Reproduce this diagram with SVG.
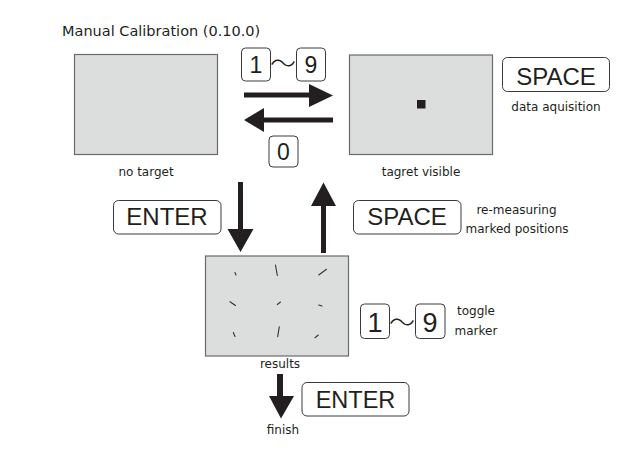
<svg xmlns="http://www.w3.org/2000/svg" width="639" height="454" viewBox="0 0 639 454">
<style>
.scr{fill:#dcdddd;stroke:#6b6b6b;stroke-width:1.2}
.key{fill:#fff;stroke:#3a3a3a;stroke-width:1}
.kt{font-family:"Liberation Sans",Arial,sans-serif;fill:#231f20;text-anchor:middle}
.lbl{font-family:"DejaVu Sans",Verdana,sans-serif;font-size:12px;fill:#231f20;text-anchor:middle}
.til{font-family:"Noto Sans CJK JP",sans-serif;font-size:26px;font-weight:200;fill:#231f20;text-anchor:middle}
.arr{fill:#231f20}
.mk{stroke:#333;stroke-width:1.1;stroke-linecap:round}
</style>
<rect width="639" height="454" fill="#fff"/>
<text x="62" y="36" font-family="DejaVu Sans,Verdana,sans-serif" font-size="14.5" fill="#231f20">Manual Calibration (0.10.0)</text>

<g id="no-target">
<rect class="scr" x="74.5" y="54.5" width="143" height="100"/>
<text class="lbl" x="146" y="176">no target</text>
</g>

<g id="target-visible">
<rect class="scr" x="349.5" y="55" width="143" height="99.5"/>
<rect x="417" y="100" width="8.5" height="8.5" fill="#231f20"/>
<text class="lbl" x="421" y="176">tagret visible</text>
</g>

<g id="results">
<rect class="scr" x="205.5" y="256" width="143" height="100"/>
<line class="mk" x1="235" y1="272.5" x2="236" y2="275"/>
<line class="mk" x1="275.5" y1="265" x2="277.3" y2="275.5"/>
<line class="mk" x1="318.7" y1="275" x2="326.5" y2="269.3"/>
<line class="mk" x1="230" y1="301.7" x2="235.5" y2="305.5"/>
<line class="mk" x1="277.3" y1="304.5" x2="280.5" y2="302"/>
<line class="mk" x1="318.7" y1="305" x2="322" y2="306"/>
<line class="mk" x1="233.3" y1="332.5" x2="235" y2="336.5"/>
<line class="mk" x1="277.7" y1="336.7" x2="279.3" y2="326.7"/>
<line class="mk" x1="315" y1="337.7" x2="318.3" y2="335"/>
<text class="lbl" x="280" y="368">results</text>
</g>

<g id="key-1-9-top">
<rect class="key" x="241.5" y="48" width="29" height="33" rx="4"/>
<text class="kt" x="256" y="73" font-size="23">1</text>
<text class="til" x="283" y="73">〜</text>
<rect class="key" x="296.5" y="48" width="29" height="33" rx="4"/>
<text class="kt" x="311" y="73" font-size="23">9</text>
</g>

<g id="key-0">
<rect class="key" x="269" y="136" width="29" height="31" rx="4"/>
<text class="kt" x="283.5" y="160" font-size="23">0</text>
</g>

<g id="key-space-data">
<rect class="key" x="502.5" y="57.5" width="107" height="34" rx="5"/>
<text class="kt" x="556" y="85" font-size="24">SPACE</text>
<text class="lbl" x="556" y="111">data aquisition</text>
</g>

<g id="key-enter-left">
<rect class="key" x="113.5" y="200.5" width="107.5" height="33.5" rx="5"/>
<text class="kt" x="167" y="225" font-size="24">ENTER</text>
</g>

<g id="key-space-remeasure">
<rect class="key" x="353.5" y="200.5" width="107.5" height="33.5" rx="5"/>
<text class="kt" x="407" y="225" font-size="24">SPACE</text>
<text class="lbl" x="516.5" y="213.5">re-measuring</text>
<text class="lbl" x="517" y="232.5">marked positions</text>
</g>

<g id="key-1-9-bottom">
<rect class="key" x="360.5" y="304" width="29" height="34.5" rx="4"/>
<text class="kt" x="375" y="331.5" font-size="27">1</text>
<text class="til" x="402" y="332">〜</text>
<rect class="key" x="415.5" y="304" width="29.5" height="34.5" rx="4"/>
<text class="kt" x="430" y="331.5" font-size="27">9</text>
<text class="lbl" x="476" y="315">toggle</text>
<text class="lbl" x="476" y="335">marker</text>
</g>

<g id="key-enter-bottom">
<rect class="key" x="302" y="382.5" width="107" height="33.5" rx="5"/>
<text class="kt" x="355.5" y="407.5" font-size="23.5">ENTER</text>
<text class="lbl" x="283" y="434">finish</text>
</g>

<g id="connectors">
<polygon class="arr" points="244,92.5 309,92.5 309,84 333,95.5 309,107 309,97.5 244,97.5"/>
<polygon class="arr" points="333,117.5 264,117.5 264,108 244,120 264,132 264,122.5 333,122.5"/>
<polygon class="arr" points="238,182 243,182 243,229 253.5,229 240.5,252 227.5,229 238,229"/>
<polygon class="arr" points="321,253 326,253 326,206 336,206 323.5,182.5 311,206 321,206"/>
<polygon class="arr" points="277,374 283,374 283,396 294,396 281,418.5 269,396 277,396"/>
</g>
</svg>
